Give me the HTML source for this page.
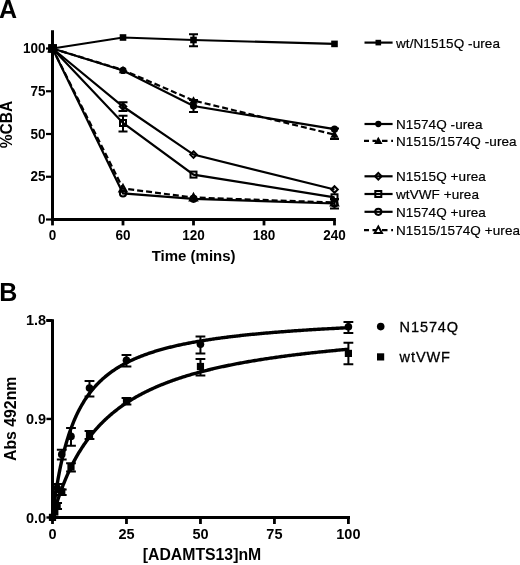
<!DOCTYPE html>
<html><head><meta charset="utf-8"><style>
html,body{margin:0;padding:0;background:#fff;}
svg{display:block;will-change:transform;}
text{font-family:"Liberation Sans",sans-serif;fill:#000;}
.tk{font-size:13.5px;font-weight:700;}
.tkb{font-size:14.5px;font-weight:700;}
.ti{font-size:15px;font-weight:700;}
.tib{font-size:15.8px;font-weight:700;}
.pl{font-size:25px;font-weight:700;}
.lg{font-size:13.5px;letter-spacing:0.08px;stroke:#000;stroke-width:0.2px;}
.lgb{font-size:14.5px;letter-spacing:0.9px;stroke:#000;stroke-width:0.3px;}
</style></head><body>
<svg width="520" height="565" viewBox="0 0 520 565">
<rect width="520" height="565" fill="#fff"/>
<path d="M52.5 30.2V221M51 219.5H335.9" stroke="#000" stroke-width="3" fill="none"/>
<path d="M46 219.50H52" stroke="#000" stroke-width="2.2"/>
<text transform="translate(45.6 224.10) scale(1 1.07)" class="tk" text-anchor="end">0</text>
<path d="M46 176.75H52" stroke="#000" stroke-width="2.2"/>
<text transform="translate(45.6 181.35) scale(1 1.07)" class="tk" text-anchor="end">25</text>
<path d="M46 134.00H52" stroke="#000" stroke-width="2.2"/>
<text transform="translate(45.6 138.60) scale(1 1.07)" class="tk" text-anchor="end">50</text>
<path d="M46 91.25H52" stroke="#000" stroke-width="2.2"/>
<text transform="translate(45.6 95.85) scale(1 1.07)" class="tk" text-anchor="end">75</text>
<path d="M46 48.50H52" stroke="#000" stroke-width="2.2"/>
<text transform="translate(45.6 53.10) scale(1 1.07)" class="tk" text-anchor="end">100</text>
<path d="M52.50 220V225.4" stroke="#000" stroke-width="2.8"/>
<text transform="translate(52.50 239.9) scale(1 1.05)" class="tk" text-anchor="middle">0</text>
<path d="M123.00 220V225.4" stroke="#000" stroke-width="2.8"/>
<text transform="translate(123.00 239.9) scale(1 1.05)" class="tk" text-anchor="middle">60</text>
<path d="M193.50 220V225.4" stroke="#000" stroke-width="2.8"/>
<text transform="translate(193.50 239.9) scale(1 1.05)" class="tk" text-anchor="middle">120</text>
<path d="M264.00 220V225.4" stroke="#000" stroke-width="2.8"/>
<text transform="translate(264.00 239.9) scale(1 1.05)" class="tk" text-anchor="middle">180</text>
<path d="M334.50 220V225.4" stroke="#000" stroke-width="2.8"/>
<text transform="translate(334.50 239.9) scale(1 1.05)" class="tk" text-anchor="middle">240</text>
<text x="193.6" y="261" class="ti" text-anchor="middle">Time (mins)</text>
<text transform="translate(12.3 124.5) rotate(-90)" class="ti" style="font-size:15.6px" text-anchor="middle">%CBA</text>
<text x="-0.9" y="17.8" class="pl">A</text>
<text x="-0.8" y="300.5" class="pl">B</text>
<polyline points="52.50,48.50 123.00,37.50 193.50,40.00 334.50,43.90" fill="none" stroke="#000" stroke-width="2.2"/>
<polyline points="52.50,48.50 123.00,70.40 193.50,106.00 334.50,129.20" fill="none" stroke="#000" stroke-width="2.2"/>
<polyline points="52.50,48.50 123.00,70.00 193.50,100.50 334.50,134.60" fill="none" stroke="#000" stroke-width="2.2" stroke-dasharray="6 3"/>
<polyline points="52.50,48.50 123.00,106.50 193.50,154.60 334.50,189.50" fill="none" stroke="#000" stroke-width="2.2"/>
<polyline points="52.50,48.50 123.00,123.00 193.50,174.60 334.50,197.30" fill="none" stroke="#000" stroke-width="2.2"/>
<polyline points="52.50,48.50 123.00,193.40 193.50,198.80 334.50,203.50" fill="none" stroke="#000" stroke-width="2.2"/>
<polyline points="52.50,48.50 123.00,188.50 193.50,197.50 334.50,202.50" fill="none" stroke="#000" stroke-width="2.2" stroke-dasharray="6 3"/>
<path d="M193.50 34.20V46.20M189.00 34.20H198.00M189.00 46.20H198.00" stroke="#000" stroke-width="2" fill="none"/>
<path d="M193.50 100.00V112.00M189.00 100.00H198.00M189.00 112.00H198.00" stroke="#000" stroke-width="2" fill="none"/>
<path d="M334.50 128.50V138.90M330.00 128.50H339.00M330.00 138.90H339.00" stroke="#000" stroke-width="2" fill="none"/>
<path d="M123.00 102.20V110.90M118.50 102.20H127.50M118.50 110.90H127.50" stroke="#000" stroke-width="2" fill="none"/>
<path d="M123.00 115.70V131.50M118.50 115.70H127.50M118.50 131.50H127.50" stroke="#000" stroke-width="2" fill="none"/>
<path d="M334.50 199.00V208.40M330.00 199.00H339.00M330.00 208.40H339.00" stroke="#000" stroke-width="2" fill="none"/>
<rect x="49.20" y="45.20" width="6.60" height="6.60" fill="#000"/>
<rect x="119.70" y="34.20" width="6.60" height="6.60" fill="#000"/>
<rect x="190.20" y="36.70" width="6.60" height="6.60" fill="#000"/>
<rect x="331.20" y="40.60" width="6.60" height="6.60" fill="#000"/>
<circle cx="52.50" cy="48.50" r="3.60" fill="#000"/>
<circle cx="123.00" cy="70.40" r="3.60" fill="#000"/>
<circle cx="193.50" cy="106.00" r="3.60" fill="#000"/>
<circle cx="334.50" cy="129.20" r="3.60" fill="#000"/>
<path d="M52.50 44.30L56.70 51.65H48.30Z" fill="#000"/>
<path d="M123.00 65.80L127.20 73.15H118.80Z" fill="#000"/>
<path d="M193.50 96.30L197.70 103.65H189.30Z" fill="#000"/>
<path d="M334.50 130.40L338.70 137.75H330.30Z" fill="#000"/>
<path d="M52.50 45.20L55.80 48.50L52.50 51.80L49.20 48.50Z" fill="none" stroke="#000" stroke-width="2"/>
<path d="M123.00 103.20L126.30 106.50L123.00 109.80L119.70 106.50Z" fill="none" stroke="#000" stroke-width="2"/>
<path d="M193.50 151.30L196.80 154.60L193.50 157.90L190.20 154.60Z" fill="none" stroke="#000" stroke-width="2"/>
<path d="M334.50 186.20L337.80 189.50L334.50 192.80L331.20 189.50Z" fill="none" stroke="#000" stroke-width="2"/>
<rect x="49.50" y="45.50" width="6.00" height="6.00" fill="none" stroke="#000" stroke-width="2"/>
<rect x="120.00" y="120.00" width="6.00" height="6.00" fill="none" stroke="#000" stroke-width="2"/>
<rect x="190.50" y="171.60" width="6.00" height="6.00" fill="none" stroke="#000" stroke-width="2"/>
<rect x="331.50" y="194.30" width="6.00" height="6.00" fill="none" stroke="#000" stroke-width="2"/>
<circle cx="52.50" cy="48.50" r="3.10" fill="none" stroke="#000" stroke-width="2"/>
<circle cx="123.00" cy="193.40" r="3.10" fill="none" stroke="#000" stroke-width="2"/>
<circle cx="193.50" cy="198.80" r="3.10" fill="none" stroke="#000" stroke-width="2"/>
<circle cx="334.50" cy="203.50" r="3.10" fill="none" stroke="#000" stroke-width="2"/>
<path d="M52.50 44.90L56.10 51.38H48.90Z" fill="none" stroke="#000" stroke-width="2" stroke-linejoin="miter"/>
<path d="M123.00 184.90L126.60 191.38H119.40Z" fill="none" stroke="#000" stroke-width="2" stroke-linejoin="miter"/>
<path d="M193.50 193.90L197.10 200.38H189.90Z" fill="none" stroke="#000" stroke-width="2" stroke-linejoin="miter"/>
<path d="M334.50 198.90L338.10 205.38H330.90Z" fill="none" stroke="#000" stroke-width="2" stroke-linejoin="miter"/>
<rect x="48.2" y="44.1" width="8.8" height="8.6" fill="#000"/>
<path d="M364.5 42.60H392.6" stroke="#000" stroke-width="2.2"/>
<rect x="375.50" y="39.80" width="5.61" height="5.61" fill="#000"/>
<text x="396" y="47.6" class="lg">wt/N1515Q -urea</text>
<path d="M364.5 124.00H392.6" stroke="#000" stroke-width="2.2"/>
<circle cx="378.30" cy="124.00" r="3.13" fill="#000"/>
<text x="396" y="129.0" class="lg">N1574Q -urea</text>
<path d="M364 140.90H369M372.5 140.90H376M382 140.90H387.5M391.2 140.90H393" stroke="#000" stroke-width="2.2"/>
<path d="M378.30 136.70L382.50 144.05H374.10Z" fill="#000"/>
<text x="396" y="145.9" class="lg">N1515/1574Q -urea</text>
<path d="M364.5 176.30H392.6" stroke="#000" stroke-width="2.2"/>
<path d="M378.30 173.00L381.60 176.30L378.30 179.60L375.00 176.30Z" fill="none" stroke="#000" stroke-width="2"/>
<text x="396" y="181.3" class="lg">N1515Q +urea</text>
<path d="M364.5 194.00H392.6" stroke="#000" stroke-width="2.2"/>
<rect x="375.30" y="191.00" width="6.00" height="6.00" fill="none" stroke="#000" stroke-width="2"/>
<text x="396" y="199.0" class="lg">wtVWF +urea</text>
<path d="M364.5 211.80H392.6" stroke="#000" stroke-width="2.2"/>
<circle cx="378.30" cy="211.80" r="3.10" fill="none" stroke="#000" stroke-width="2"/>
<text x="396" y="216.8" class="lg">N1574Q +urea</text>
<path d="M364 230.20H369M372.5 230.20H376M382 230.20H387.5M391.2 230.20H393" stroke="#000" stroke-width="2.2"/>
<path d="M378.30 226.60L381.90 233.08H374.70Z" fill="none" stroke="#000" stroke-width="2" stroke-linejoin="miter"/>
<text x="396" y="235.2" class="lg">N1515/1574Q +urea</text>
<path d="M52.5 319.2V519M51 517.5H350M46.4 320.4H52.5" stroke="#000" stroke-width="3" fill="none"/>
<path d="M46.4 517.50H52" stroke="#000" stroke-width="2.4"/>
<text x="46.2" y="522.50" class="tkb" text-anchor="end">0.0</text>
<path d="M46.4 418.95H52" stroke="#000" stroke-width="2.4"/>
<text x="46.2" y="423.95" class="tkb" text-anchor="end">0.9</text>
<path d="M46.4 320.40H52" stroke="#000" stroke-width="2.4"/>
<text x="46.2" y="325.40" class="tkb" text-anchor="end">1.8</text>
<path d="M52.50 518V524" stroke="#000" stroke-width="2.8"/>
<text x="52.50" y="539" class="tkb" text-anchor="middle">0</text>
<path d="M126.47 518V524" stroke="#000" stroke-width="2.8"/>
<text x="126.47" y="539" class="tkb" text-anchor="middle">25</text>
<path d="M200.45 518V524" stroke="#000" stroke-width="2.8"/>
<text x="200.45" y="539" class="tkb" text-anchor="middle">50</text>
<path d="M274.43 518V524" stroke="#000" stroke-width="2.8"/>
<text x="274.43" y="539" class="tkb" text-anchor="middle">75</text>
<path d="M348.40 518V524" stroke="#000" stroke-width="2.8"/>
<text x="348.40" y="539" class="tkb" text-anchor="middle">100</text>
<text x="202" y="559.8" class="tib" text-anchor="middle">[ADAMTS13]nM</text>
<text transform="translate(15.6 418.8) rotate(-90)" class="tib" text-anchor="middle">Abs 492nm</text>
<polyline points="52.50,517.50 52.50,517.48 52.51,517.44 52.52,517.36 52.53,517.25 52.55,517.11 52.57,516.94 52.59,516.73 52.62,516.50 52.65,516.24 52.68,515.94 52.72,515.62 52.77,515.26 52.81,514.88 52.86,514.47 52.92,514.03 52.97,513.56 53.03,513.06 53.10,512.53 53.17,511.98 53.24,511.40 53.32,510.80 53.40,510.17 53.48,509.51 53.57,508.83 53.66,508.13 53.75,507.40 53.85,506.65 53.95,505.88 54.06,505.09 54.16,504.27 54.28,503.44 54.39,502.59 54.51,501.71 54.64,500.82 54.77,499.91 54.90,498.98 55.03,498.04 55.17,497.08 55.31,496.10 55.46,495.11 55.61,494.11 55.76,493.09 55.92,492.06 56.08,491.02 56.24,489.96 56.41,488.90 56.59,487.82 56.76,486.74 56.94,485.64 57.12,484.54 57.31,483.43 57.50,482.31 57.69,481.18 57.89,480.05 58.09,478.92 58.30,477.78 58.51,476.63 58.72,475.48 58.94,474.32 59.16,473.17 59.38,472.01 59.61,470.84 59.84,469.68 60.08,468.52 60.31,467.35 60.56,466.18 60.80,465.02 61.05,463.85 61.30,462.69 61.56,461.52 61.82,460.36 62.09,459.20 62.36,458.04 62.63,456.88 62.90,455.73 63.18,454.58 63.46,453.44 63.75,452.29 64.04,451.15 64.34,450.02 64.63,448.89 64.94,447.76 65.24,446.64 65.55,445.53 65.86,444.42 66.18,443.31 66.50,442.21 66.82,441.12 67.15,440.03 67.48,438.95 67.81,437.88 68.15,436.81 68.50,435.75 68.84,434.69 69.19,433.64 69.54,432.60 69.90,431.57 70.26,430.54 70.63,429.52 70.99,428.51 71.37,427.51 71.74,426.51 72.12,425.52 72.50,424.54 72.89,423.56 73.28,422.60 73.67,421.64 74.07,420.69 74.47,419.74 74.88,418.81 75.29,417.88 75.70,416.96 76.11,416.05 76.53,415.14 76.96,414.25 77.39,413.36 77.82,412.48 78.25,411.60 78.69,410.74 79.13,409.88 79.58,409.03 80.03,408.19 80.48,407.36 80.94,406.53 81.40,405.71 81.86,404.90 82.33,404.10 82.80,403.30 83.28,402.51 83.75,401.73 84.24,400.96 84.72,400.19 85.21,399.44 85.71,398.69 86.20,397.94 86.71,397.21 87.21,396.48 87.72,395.75 88.23,395.04 88.75,394.33 89.27,393.63 89.79,392.94 90.32,392.25 90.85,391.57 91.38,390.90 91.92,390.23 92.46,389.57 93.01,388.92 93.56,388.28 94.11,387.64 94.67,387.00 95.23,386.38 95.79,385.76 96.36,385.14 96.93,384.53 97.51,383.93 98.09,383.34 98.67,382.75 99.25,382.16 99.84,381.59 100.44,381.02 101.03,380.45 101.64,379.89 102.24,379.34 102.85,378.79 103.46,378.25 104.08,377.71 104.70,377.18 105.32,376.65 105.95,376.13 106.58,375.62 107.21,375.11 107.85,374.60 108.49,374.10 109.14,373.61 109.79,373.12 110.44,372.63 111.10,372.15 111.76,371.68 112.42,371.21 113.09,370.74 113.76,370.28 114.43,369.83 115.11,369.38 115.79,368.93 116.48,368.49 117.17,368.05 117.86,367.62 118.56,367.19 119.26,366.77 119.97,366.35 120.68,365.93 121.39,365.52 122.10,365.11 122.82,364.71 123.55,364.31 124.27,363.92 125.00,363.53 125.74,363.14 126.47,362.76 127.22,362.38 127.96,362.00 128.71,361.63 129.46,361.26 130.22,360.90 130.98,360.54 131.74,360.18 132.51,359.83 133.28,359.48 134.06,359.13 134.84,358.79 135.62,358.45 136.40,358.11 137.19,357.78 137.99,357.45 138.78,357.12 139.59,356.80 140.39,356.48 141.20,356.16 142.01,355.85 142.83,355.54 143.64,355.23 144.47,354.92 145.29,354.62 146.12,354.32 146.96,354.03 147.80,353.73 148.64,353.44 149.48,353.15 150.33,352.87 151.18,352.59 152.04,352.31 152.90,352.03 153.76,351.76 154.63,351.48 155.50,351.22 156.38,350.95 157.26,350.68 158.14,350.42 159.02,350.16 159.91,349.91 160.81,349.65 161.70,349.40 162.60,349.15 163.51,348.90 164.42,348.66 165.33,348.42 166.24,348.18 167.16,347.94 168.09,347.70 169.01,347.47 169.94,347.24 170.88,347.01 171.81,346.78 172.76,346.55 173.70,346.33 174.65,346.11 175.60,345.89 176.56,345.67 177.52,345.46 178.48,345.24 179.45,345.03 180.42,344.82 181.39,344.61 182.37,344.41 183.35,344.20 184.34,344.00 185.33,343.80 186.32,343.60 187.32,343.41 188.32,343.21 189.32,343.02 190.33,342.82 191.34,342.63 192.36,342.45 193.38,342.26 194.40,342.07 195.43,341.89 196.46,341.71 197.49,341.53 198.53,341.35 199.57,341.17 200.61,341.00 201.66,340.82 202.72,340.65 203.77,340.48 204.83,340.31 205.89,340.14 206.96,339.97 208.03,339.81 209.11,339.64 210.19,339.48 211.27,339.32 212.35,339.16 213.44,339.00 214.53,338.84 215.63,338.69 216.73,338.53 217.84,338.38 218.94,338.23 220.06,338.08 221.17,337.93 222.29,337.78 223.41,337.63 224.54,337.48 225.67,337.34 226.80,337.20 227.94,337.05 229.08,336.91 230.22,336.77 231.37,336.63 232.53,336.49 233.68,336.36 234.84,336.22 236.00,336.09 237.17,335.95 238.34,335.82 239.52,335.69 240.69,335.56 241.88,335.43 243.06,335.30 244.25,335.17 245.44,335.05 246.64,334.92 247.84,334.80 249.04,334.68 250.25,334.55 251.46,334.43 252.68,334.31 253.90,334.19 255.12,334.07 256.35,333.95 257.58,333.84 258.81,333.72 260.05,333.61 261.29,333.49 262.53,333.38 263.78,333.27 265.03,333.16 266.29,333.05 267.55,332.94 268.81,332.83 270.08,332.72 271.35,332.61 272.62,332.50 273.90,332.40 275.18,332.29 276.47,332.19 277.76,332.09 279.05,331.98 280.34,331.88 281.64,331.78 282.95,331.68 284.26,331.58 285.57,331.48 286.88,331.38 288.20,331.29 289.52,331.19 290.85,331.09 292.18,331.00 293.51,330.90 294.85,330.81 296.19,330.72 297.53,330.62 298.88,330.53 300.23,330.44 301.59,330.35 302.95,330.26 304.31,330.17 305.68,330.08 307.05,330.00 308.42,329.91 309.80,329.82 311.18,329.73 312.57,329.65 313.96,329.56 315.35,329.48 316.75,329.40 318.15,329.31 319.55,329.23 320.96,329.15 322.37,329.07 323.78,328.99 325.20,328.91 326.62,328.83 328.05,328.75 329.48,328.67 330.91,328.59 332.35,328.51 333.79,328.44 335.23,328.36 336.68,328.28 338.13,328.21 339.59,328.13 341.05,328.06 342.51,327.99 343.98,327.91 345.45,327.84 346.92,327.77 348.40,327.69" fill="none" stroke="#000" stroke-width="3.4"/>
<polyline points="52.50,517.50 52.50,517.49 52.51,517.47 52.52,517.44 52.53,517.39 52.55,517.33 52.57,517.26 52.59,517.17 52.62,517.07 52.65,516.96 52.68,516.83 52.72,516.69 52.77,516.53 52.81,516.37 52.86,516.19 52.92,516.00 52.97,515.79 53.03,515.57 53.10,515.34 53.17,515.10 53.24,514.84 53.32,514.57 53.40,514.29 53.48,514.00 53.57,513.69 53.66,513.38 53.75,513.05 53.85,512.71 53.95,512.35 54.06,511.99 54.16,511.62 54.28,511.23 54.39,510.83 54.51,510.42 54.64,510.01 54.77,509.58 54.90,509.14 55.03,508.69 55.17,508.23 55.31,507.75 55.46,507.27 55.61,506.78 55.76,506.29 55.92,505.78 56.08,505.26 56.24,504.73 56.41,504.20 56.59,503.65 56.76,503.10 56.94,502.54 57.12,501.97 57.31,501.39 57.50,500.81 57.69,500.22 57.89,499.62 58.09,499.01 58.30,498.40 58.51,497.78 58.72,497.15 58.94,496.52 59.16,495.88 59.38,495.23 59.61,494.58 59.84,493.92 60.08,493.26 60.31,492.59 60.56,491.92 60.80,491.24 61.05,490.56 61.30,489.87 61.56,489.18 61.82,488.48 62.09,487.78 62.36,487.08 62.63,486.37 62.90,485.66 63.18,484.94 63.46,484.22 63.75,483.50 64.04,482.78 64.34,482.05 64.63,481.32 64.94,480.59 65.24,479.85 65.55,479.12 65.86,478.38 66.18,477.64 66.50,476.89 66.82,476.15 67.15,475.41 67.48,474.66 67.81,473.91 68.15,473.16 68.50,472.41 68.84,471.66 69.19,470.91 69.54,470.16 69.90,469.40 70.26,468.65 70.63,467.90 70.99,467.15 71.37,466.39 71.74,465.64 72.12,464.89 72.50,464.14 72.89,463.39 73.28,462.64 73.67,461.89 74.07,461.14 74.47,460.39 74.88,459.64 75.29,458.89 75.70,458.15 76.11,457.41 76.53,456.66 76.96,455.92 77.39,455.18 77.82,454.45 78.25,453.71 78.69,452.97 79.13,452.24 79.58,451.51 80.03,450.78 80.48,450.06 80.94,449.33 81.40,448.61 81.86,447.89 82.33,447.17 82.80,446.45 83.28,445.74 83.75,445.03 84.24,444.32 84.72,443.62 85.21,442.91 85.71,442.21 86.20,441.51 86.71,440.82 87.21,440.13 87.72,439.44 88.23,438.75 88.75,438.06 89.27,437.38 89.79,436.70 90.32,436.03 90.85,435.36 91.38,434.69 91.92,434.02 92.46,433.36 93.01,432.70 93.56,432.04 94.11,431.39 94.67,430.74 95.23,430.09 95.79,429.44 96.36,428.80 96.93,428.17 97.51,427.53 98.09,426.90 98.67,426.27 99.25,425.65 99.84,425.02 100.44,424.41 101.03,423.79 101.64,423.18 102.24,422.57 102.85,421.97 103.46,421.37 104.08,420.77 104.70,420.17 105.32,419.58 105.95,418.99 106.58,418.41 107.21,417.83 107.85,417.25 108.49,416.67 109.14,416.10 109.79,415.54 110.44,414.97 111.10,414.41 111.76,413.85 112.42,413.30 113.09,412.75 113.76,412.20 114.43,411.65 115.11,411.11 115.79,410.58 116.48,410.04 117.17,409.51 117.86,408.98 118.56,408.46 119.26,407.94 119.97,407.42 120.68,406.90 121.39,406.39 122.10,405.88 122.82,405.38 123.55,404.88 124.27,404.38 125.00,403.88 125.74,403.39 126.47,402.90 127.22,402.42 127.96,401.93 128.71,401.45 129.46,400.98 130.22,400.51 130.98,400.03 131.74,399.57 132.51,399.10 133.28,398.64 134.06,398.18 134.84,397.73 135.62,397.28 136.40,396.83 137.19,396.38 137.99,395.94 138.78,395.50 139.59,395.06 140.39,394.63 141.20,394.20 142.01,393.77 142.83,393.34 143.64,392.92 144.47,392.50 145.29,392.09 146.12,391.67 146.96,391.26 147.80,390.85 148.64,390.45 149.48,390.04 150.33,389.64 151.18,389.25 152.04,388.85 152.90,388.46 153.76,388.07 154.63,387.68 155.50,387.30 156.38,386.92 157.26,386.54 158.14,386.16 159.02,385.79 159.91,385.42 160.81,385.05 161.70,384.68 162.60,384.32 163.51,383.96 164.42,383.60 165.33,383.24 166.24,382.89 167.16,382.53 168.09,382.19 169.01,381.84 169.94,381.49 170.88,381.15 171.81,380.81 172.76,380.48 173.70,380.14 174.65,379.81 175.60,379.48 176.56,379.15 177.52,378.82 178.48,378.50 179.45,378.18 180.42,377.86 181.39,377.54 182.37,377.23 183.35,376.91 184.34,376.60 185.33,376.29 186.32,375.99 187.32,375.68 188.32,375.38 189.32,375.08 190.33,374.78 191.34,374.49 192.36,374.19 193.38,373.90 194.40,373.61 195.43,373.32 196.46,373.04 197.49,372.75 198.53,372.47 199.57,372.19 200.61,371.91 201.66,371.63 202.72,371.36 203.77,371.08 204.83,370.81 205.89,370.54 206.96,370.28 208.03,370.01 209.11,369.75 210.19,369.48 211.27,369.22 212.35,368.97 213.44,368.71 214.53,368.45 215.63,368.20 216.73,367.95 217.84,367.70 218.94,367.45 220.06,367.20 221.17,366.96 222.29,366.71 223.41,366.47 224.54,366.23 225.67,365.99 226.80,365.76 227.94,365.52 229.08,365.29 230.22,365.06 231.37,364.82 232.53,364.60 233.68,364.37 234.84,364.14 236.00,363.92 237.17,363.69 238.34,363.47 239.52,363.25 240.69,363.03 241.88,362.81 243.06,362.60 244.25,362.38 245.44,362.17 246.64,361.96 247.84,361.75 249.04,361.54 250.25,361.33 251.46,361.12 252.68,360.92 253.90,360.72 255.12,360.51 256.35,360.31 257.58,360.11 258.81,359.91 260.05,359.72 261.29,359.52 262.53,359.33 263.78,359.13 265.03,358.94 266.29,358.75 267.55,358.56 268.81,358.37 270.08,358.18 271.35,358.00 272.62,357.81 273.90,357.63 275.18,357.45 276.47,357.26 277.76,357.08 279.05,356.91 280.34,356.73 281.64,356.55 282.95,356.37 284.26,356.20 285.57,356.03 286.88,355.85 288.20,355.68 289.52,355.51 290.85,355.34 292.18,355.17 293.51,355.01 294.85,354.84 296.19,354.68 297.53,354.51 298.88,354.35 300.23,354.19 301.59,354.03 302.95,353.87 304.31,353.71 305.68,353.55 307.05,353.39 308.42,353.24 309.80,353.08 311.18,352.93 312.57,352.77 313.96,352.62 315.35,352.47 316.75,352.32 318.15,352.17 319.55,352.02 320.96,351.87 322.37,351.73 323.78,351.58 325.20,351.44 326.62,351.29 328.05,351.15 329.48,351.01 330.91,350.86 332.35,350.72 333.79,350.58 335.23,350.44 336.68,350.31 338.13,350.17 339.59,350.03 341.05,349.90 342.51,349.76 343.98,349.63 345.45,349.49 346.92,349.36 348.40,349.23" fill="none" stroke="#000" stroke-width="3.4"/>
<circle cx="52.50" cy="517.40" r="3.8" fill="#000"/>
<circle cx="54.81" cy="505.00" r="3.8" fill="#000"/>
<path d="M57.12 484.00V492.00M52.22 484.00H62.02M52.22 492.00H62.02" stroke="#000" stroke-width="2" fill="none"/>
<circle cx="57.12" cy="488.00" r="3.8" fill="#000"/>
<path d="M61.75 449.80V459.50M56.85 449.80H66.65M56.85 459.50H66.65" stroke="#000" stroke-width="2" fill="none"/>
<circle cx="61.75" cy="454.40" r="3.8" fill="#000"/>
<path d="M70.99 427.90V445.70M66.09 427.90H75.89M66.09 445.70H75.89" stroke="#000" stroke-width="2" fill="none"/>
<circle cx="70.99" cy="436.40" r="3.8" fill="#000"/>
<path d="M89.49 381.00V396.50M84.59 381.00H94.39M84.59 396.50H94.39" stroke="#000" stroke-width="2" fill="none"/>
<circle cx="89.49" cy="388.00" r="3.8" fill="#000"/>
<path d="M126.47 354.90V366.50M121.57 354.90H131.38M121.57 366.50H131.38" stroke="#000" stroke-width="2" fill="none"/>
<circle cx="126.47" cy="360.20" r="3.8" fill="#000"/>
<path d="M200.45 336.50V353.40M195.55 336.50H205.35M195.55 353.40H205.35" stroke="#000" stroke-width="2" fill="none"/>
<circle cx="200.45" cy="344.30" r="3.8" fill="#000"/>
<path d="M348.40 322.00V332.90M343.50 322.00H353.30M343.50 332.90H353.30" stroke="#000" stroke-width="2" fill="none"/>
<circle cx="348.40" cy="326.70" r="3.8" fill="#000"/>
<rect x="48.90" y="513.80" width="7.2" height="7.2" fill="#000"/>
<rect x="51.21" y="508.40" width="7.2" height="7.2" fill="#000"/>
<path d="M57.12 503.00V509.00M52.22 503.00H62.02M52.22 509.00H62.02" stroke="#000" stroke-width="2" fill="none"/>
<rect x="53.52" y="502.40" width="7.2" height="7.2" fill="#000"/>
<path d="M61.75 489.60V494.90M56.85 489.60H66.65M56.85 494.90H66.65" stroke="#000" stroke-width="2" fill="none"/>
<rect x="58.15" y="488.30" width="7.2" height="7.2" fill="#000"/>
<path d="M70.99 463.30V471.60M66.09 463.30H75.89M66.09 471.60H75.89" stroke="#000" stroke-width="2" fill="none"/>
<rect x="67.39" y="463.40" width="7.2" height="7.2" fill="#000"/>
<path d="M89.49 431.00V439.00M84.59 431.00H94.39M84.59 439.00H94.39" stroke="#000" stroke-width="2" fill="none"/>
<rect x="85.89" y="431.40" width="7.2" height="7.2" fill="#000"/>
<path d="M126.47 398.00V404.50M121.57 398.00H131.38M121.57 404.50H131.38" stroke="#000" stroke-width="2" fill="none"/>
<rect x="122.88" y="397.80" width="7.2" height="7.2" fill="#000"/>
<path d="M200.45 359.10V375.40M195.55 359.10H205.35M195.55 375.40H205.35" stroke="#000" stroke-width="2" fill="none"/>
<rect x="196.85" y="362.90" width="7.2" height="7.2" fill="#000"/>
<path d="M348.40 342.80V364.20M343.50 342.80H353.30M343.50 364.20H353.30" stroke="#000" stroke-width="2" fill="none"/>
<rect x="344.80" y="349.80" width="7.2" height="7.2" fill="#000"/>
<circle cx="380.7" cy="326.6" r="3.8" fill="#000"/>
<rect x="377" y="353.3" width="7.2" height="7.2" fill="#000"/>
<text x="399.6" y="332.2" class="lgb">N1574Q</text>
<text x="399.6" y="362.1" class="lgb">wtVWF</text>
</svg>
</body></html>
